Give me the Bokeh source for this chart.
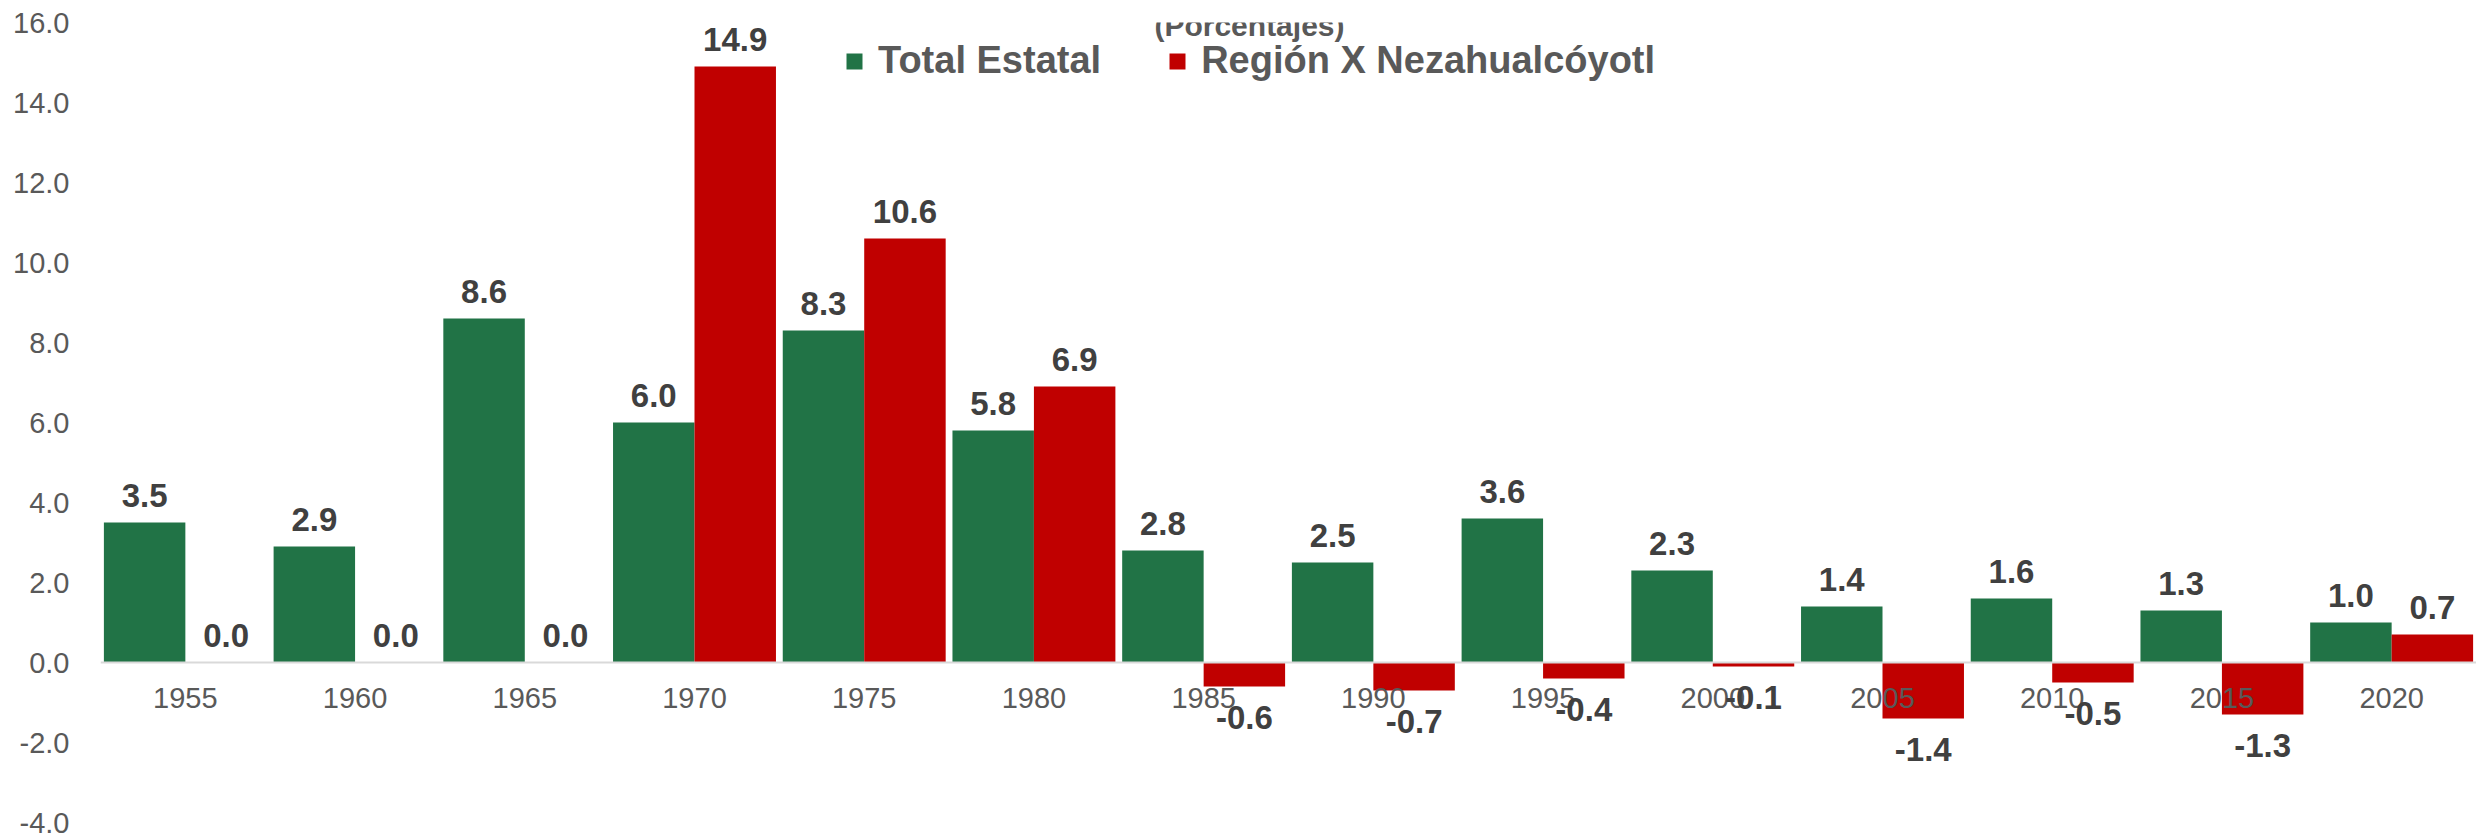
from bokeh.plotting import figure
from bokeh.models import (ColumnDataSource, FactorRange, Range1d, Legend, LegendItem,
                          NumeralTickFormatter, SingleIntervalTicker, Span, Label)
from bokeh.transform import dodge
from bokeh.core.properties import value
from bokeh.embed import file_html
from bokeh.resources import INLINE

years = ["1955", "1960", "1965", "1970", "1975", "1980", "1985", "1990",
         "1995", "2000", "2005", "2010", "2015", "2020"]
total_estatal = [3.5, 2.9, 8.6, 6.0, 8.3, 5.8, 2.8, 2.5, 3.6, 2.3, 1.4, 1.6, 1.3, 1.0]
region_x = [0.0, 0.0, 0.0, 14.9, 10.6, 6.9, -0.6, -0.7, -0.4, -0.1, -1.4, -0.5, -1.3, 0.7]
series_names = ["Total Estatal", "Región X Nezahualcóyotl"]
title_text = "(Porcentajes)"

GREEN = "#217346"
RED = "#C00000"
FONT = "Liberation Sans"

def lab_off(v):
    return -27 if v >= 0 else 31

src = ColumnDataSource(dict(
    year=years,
    tot=total_estatal,
    reg=region_x,
    zero=[0.0] * len(years),
    tot_lab=["%.1f" % v for v in total_estatal],
    reg_lab=["%.1f" % v for v in region_x],
    tot_off=[lab_off(v) for v in total_estatal],
    reg_off=[lab_off(v) for v in region_x],
))

p = figure(width=2476, height=837, x_range=FactorRange(*years, range_padding=0),
           y_range=Range1d(-4, 16), output_backend="svg", toolbar_location=None,
           x_axis_location=None, min_border_left=100, min_border_right=0,
           min_border_top=22, min_border_bottom=15)
p.outline_line_color = None
p.xgrid.visible = False
p.ygrid.visible = False
p.background_fill_color = "white"
p.border_fill_color = "white"

yax = p.yaxis[0]
yax.ticker = SingleIntervalTicker(interval=2)
yax.formatter = NumeralTickFormatter(format="0.0")
yax.axis_line_color = None
yax.major_tick_line_color = None
yax.minor_tick_line_color = None
yax.major_tick_out = 0
yax.major_tick_in = 0
yax.major_label_standoff = 27
yax.major_label_text_font = FONT
yax.major_label_text_font_size = "29px"
yax.major_label_text_color = "#595959"

bw = 0.48
r1 = p.vbar(x=dodge("year", -bw / 2, range=p.x_range), top="tot", bottom=0, width=bw,
            source=src, fill_color=GREEN, line_color=None)
r2 = p.vbar(x=dodge("year", bw / 2, range=p.x_range), top="reg", bottom=0, width=bw,
            source=src, fill_color=RED, line_color=None)

p.add_layout(Span(location=0, dimension="width", line_color="#D9D9D9", line_width=2))

# category labels sitting under the zero line
p.text(x="year", y="zero", text="year", source=src, y_offset=35,
       text_align="center", text_baseline="alphabetic",
       text_font=value(FONT), text_font_size="29px", text_color="#595959")

# data labels
p.text(x=dodge("year", -bw / 2, range=p.x_range), y="tot", text="tot_lab", source=src,
       y_offset="tot_off", text_align="center", text_baseline="alphabetic",
       text_font=value(FONT), text_font_size="33px", text_font_style="bold",
       text_color="#404040")
p.text(x=dodge("year", bw / 2, range=p.x_range), y="reg", text="reg_lab", source=src,
       y_offset="reg_off", text_align="center", text_baseline="alphabetic",
       text_font=value(FONT), text_font_size="33px", text_font_style="bold",
       text_color="#404040")

legend = Legend(items=[LegendItem(label=series_names[0], renderers=[r1]),
                       LegendItem(label=series_names[1], renderers=[r2])],
                orientation="horizontal", location=(744, 740))
legend.label_text_font = FONT
legend.label_text_font_size = "38px"
legend.label_text_font_style = "bold"
legend.label_text_color = "#595959"
legend.glyph_width = 20
legend.glyph_height = 20
legend.label_standoff = 14
legend.spacing = 66
legend.padding = 0
legend.margin = 0
legend.label_height = 40
legend.border_line_color = None
legend.background_fill_alpha = 0
p.add_layout(legend)

p.add_layout(Label(x=6.77, y=15.92, text=title_text, text_align="center",
                   text_baseline="alphabetic", text_font=FONT, text_font_size="30px",
                   text_font_style="bold", text_color="#595959"))

open("out.html", "w").write(file_html(p, INLINE))
